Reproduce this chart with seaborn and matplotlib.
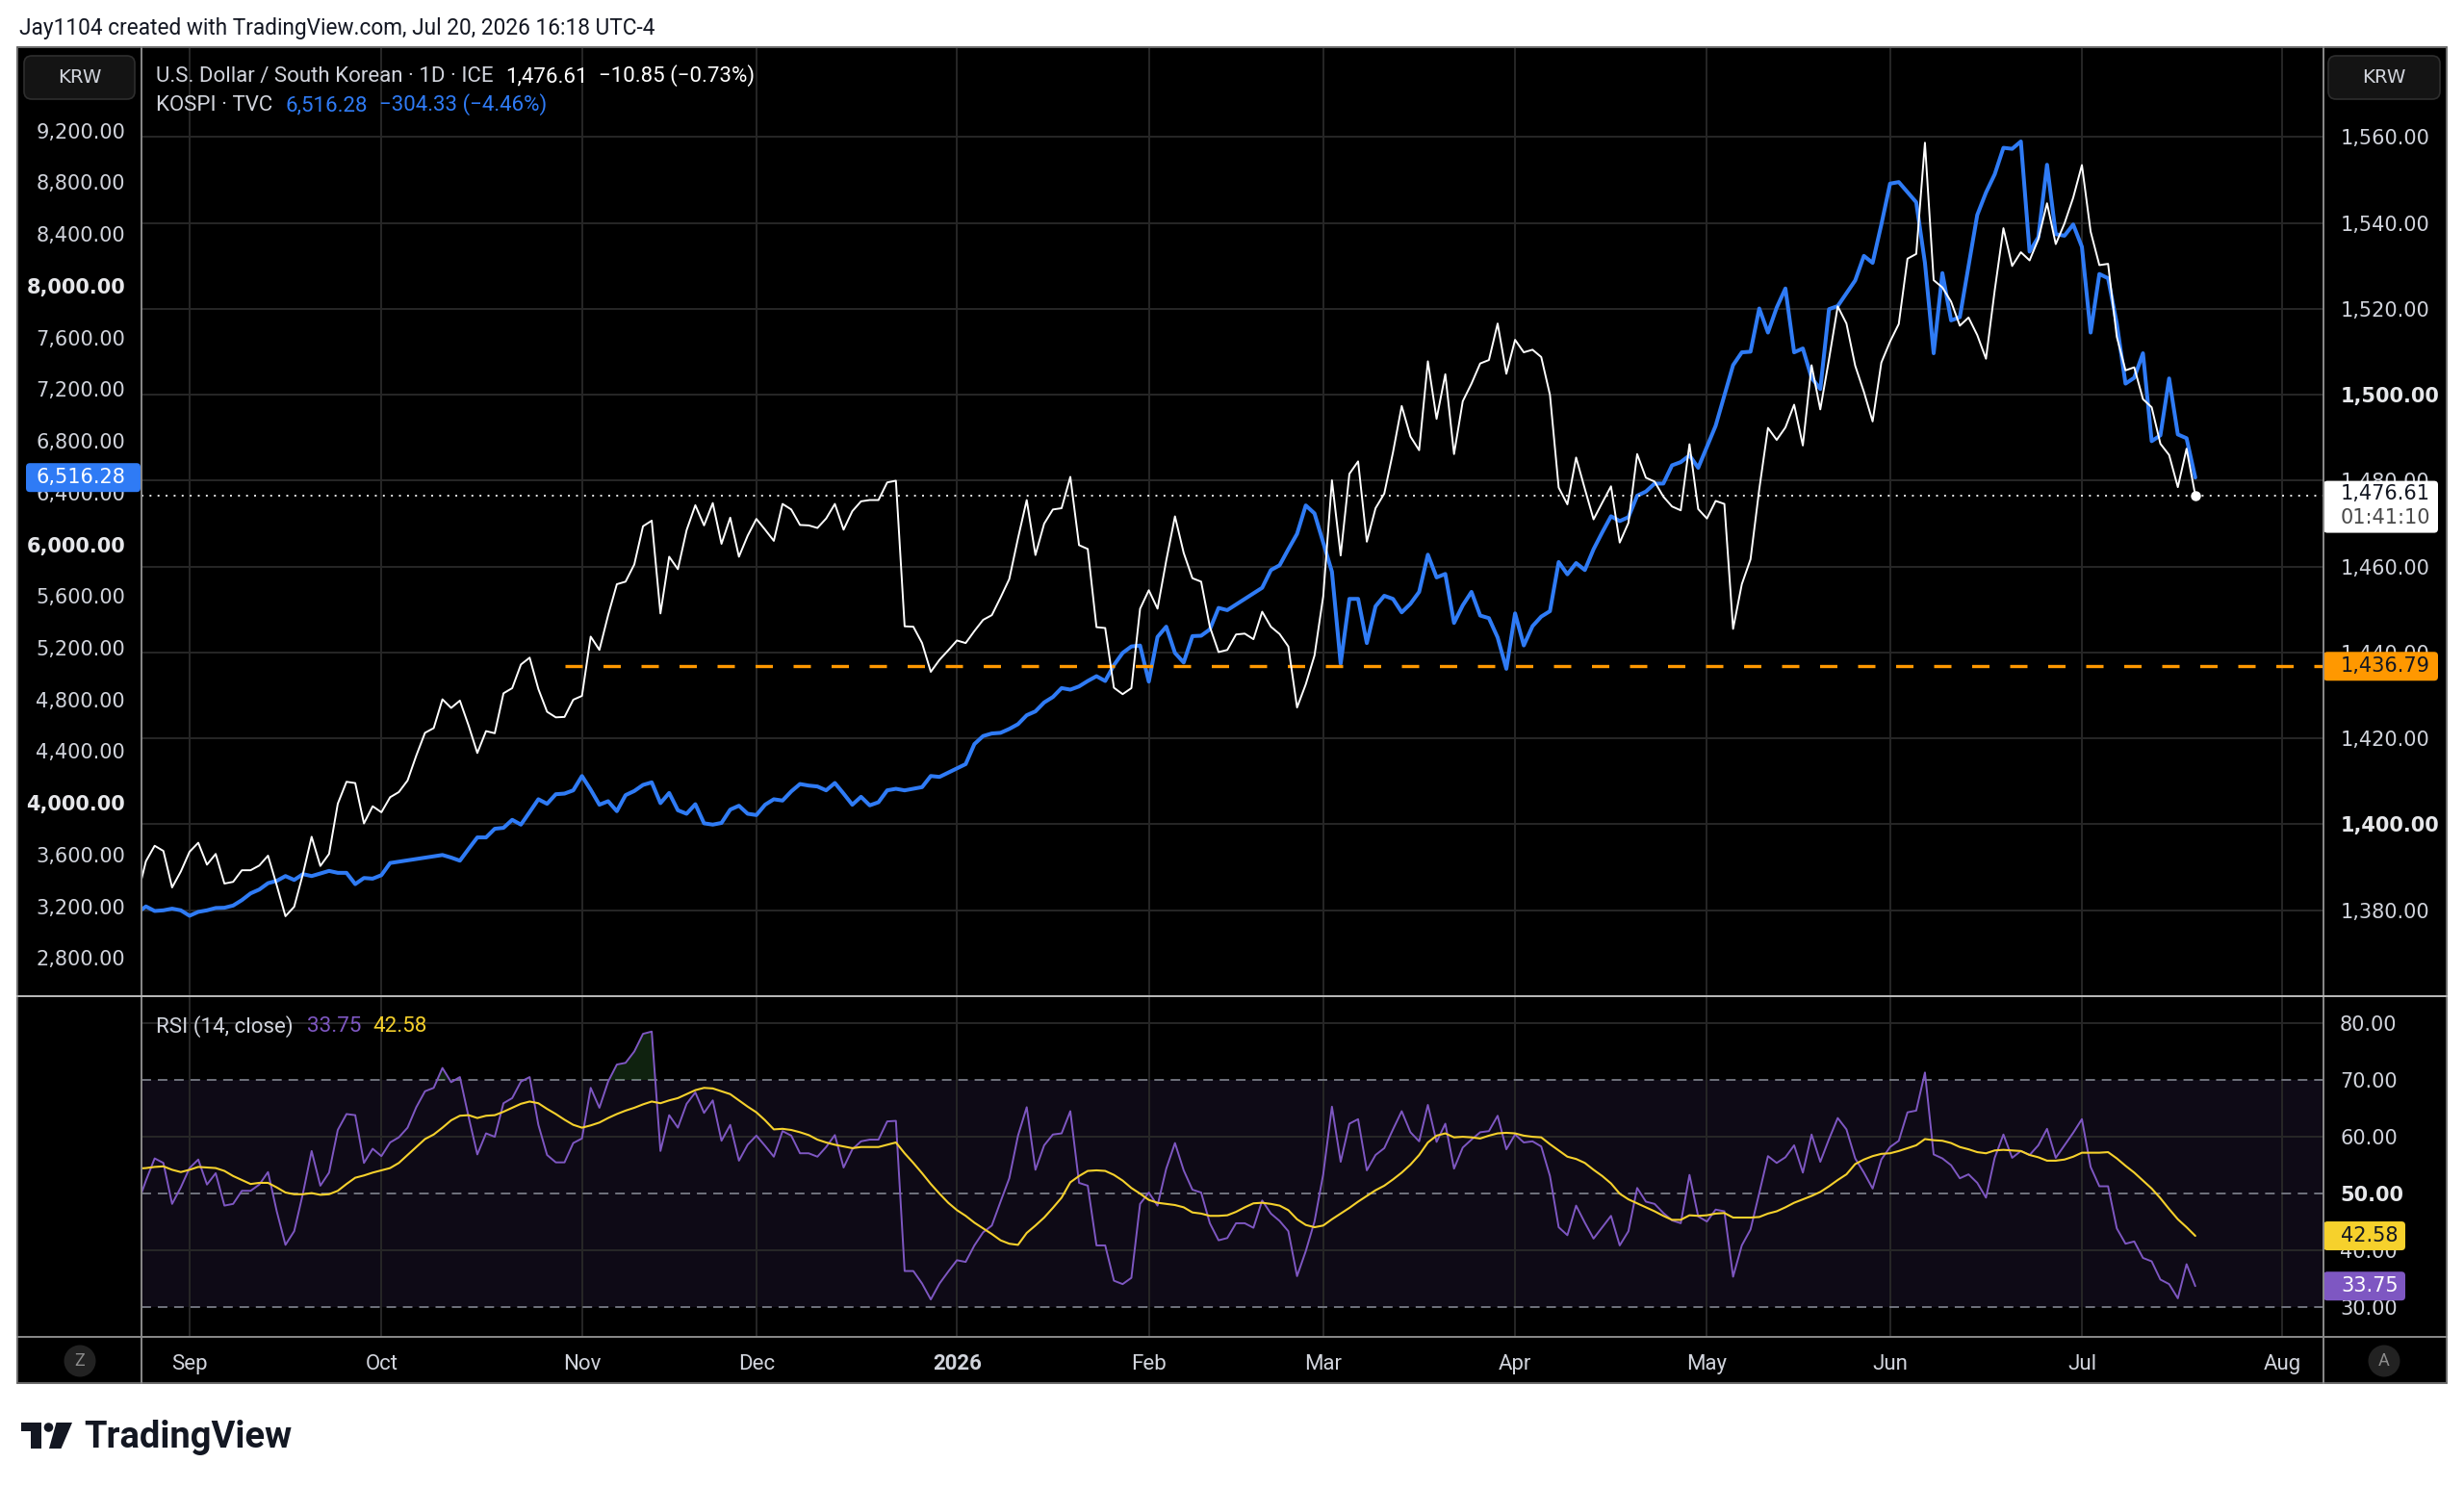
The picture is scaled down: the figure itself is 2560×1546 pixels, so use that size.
import numpy as np
import pandas as pd
import matplotlib
matplotlib.use("Agg")
import matplotlib.pyplot as plt
import seaborn as sns
from matplotlib.patches import FancyBboxPatch, Rectangle, Circle, Polygon
from matplotlib.lines import Line2D
from matplotlib.transforms import blended_transform_factory, IdentityTransform

nan = np.nan

# ------------------------------------------------------------------ data
start_date = "2025-08-22"
end_date = "2026-07-20"
axis_end = "2026-08-31"

usdkrw = [
    1383.2, 1391.4, 1395.0, 1393.8, 1385.3, 1389.0, 1393.6, 1395.7, 1390.6, 1393.1,
    1386.2, 1386.6, 1389.3, 1389.3, 1390.4, 1392.7, 1385.8, 1378.6, 1380.8, 1388.4,
    1397.1, 1390.3, 1393.1, 1404.8, 1409.9, 1409.6, 1400.2, 1404.2, 1402.8, 1406.3,
    1407.5, 1410.2, 1416.0, 1421.3, 1422.4, 1429.1, 1427.1, 1428.8, 1423.0, 1416.6,
    1421.7, 1421.2, 1430.5, 1431.7, 1437.2, 1438.8, 1431.5, 1426.2, 1424.9, 1425.0,
    1429.0, 1429.9, 1443.7, 1440.6, 1448.7, 1455.9, 1456.5, 1460.5, 1469.4, 1470.7,
    1449.1, 1462.3, 1459.4, 1468.5, 1474.3, 1469.6, 1474.8, 1465.3, 1471.4, 1462.3,
    1467.2, 1471.1, 1468.6, 1466.0, 1474.6, 1473.3, 1469.7, 1469.6, 1469.0, 1471.2,
    1474.6, 1468.6, 1472.9, 1475.2, 1475.5, 1475.5, 1479.6, 1480.0, 1446.1, 1446.0,
    1442.2, 1435.5, 1438.3, 1440.5, 1442.8, 1442.2, 1445.0, 1447.6, 1448.7, 1452.8,
    1457.1, 1466.6, 1475.5, 1462.7, 1470.0, 1473.3, 1473.6, 1480.9, 1465.0, 1464.1,
    1445.9, 1445.7, 1431.8, 1430.3, 1431.7, 1450.2, 1454.5, 1450.2, 1461.4, 1471.7,
    1463.2, 1457.3, 1456.5, 1446.0, 1440.1, 1440.6, 1444.2, 1444.4, 1443.1, 1449.5,
    1446.0, 1444.3, 1441.4, 1427.2, 1432.6, 1439.3, 1453.1, 1480.1, 1462.6, 1481.6,
    1484.5, 1465.8, 1473.6, 1477.0, 1486.6, 1497.4, 1490.3, 1487.1, 1507.8, 1494.4,
    1504.8, 1486.2, 1498.5, 1502.6, 1507.3, 1508.1, 1516.6, 1504.9, 1512.8, 1509.9,
    1510.5, 1508.8, 1500.0, 1478.4, 1474.5, 1485.4, 1478.1, 1471.0, 1474.9, 1478.7,
    1465.6, 1470.2, 1486.2, 1480.7, 1479.8, 1476.3, 1474.0, 1473.1, 1488.5, 1473.4,
    1471.2, 1475.3, 1474.6, 1445.5, 1455.9, 1461.7, 1478.0, 1492.3, 1489.5, 1492.4,
    1497.7, 1488.2, 1506.9, 1496.6, 1508.3, 1520.6, 1516.6, 1506.8, 1500.7, 1493.8,
    1507.5, 1512.4, 1516.5, 1531.7, 1532.8, 1558.7, 1526.7, 1525.0, 1521.7, 1516.1,
    1518.0, 1513.9, 1508.4, 1524.3, 1538.8, 1530.0, 1533.2, 1531.3, 1536.2, 1544.6,
    1535.1, 1539.9, 1545.9, 1553.5, 1538.0, 1530.2, 1530.5, 1513.5, 1505.7, 1506.4,
    1499.0, 1497.1, 1488.6, 1486.0, 1478.5, 1487.46, 1476.61,
]

kospi = [
    3150, 3199, 3164, 3169, 3182, 3169, 3127, 3157, 3169, 3187,
    3189, 3206, 3248, 3300, 3330, 3379, 3397, 3434, 3404, 3449,
    3434, 3454, 3474, 3459, 3459, 3372, 3419, 3414, 3441, 3535,
    nan, nan, nan, nan, nan, 3597, 3577, 3553, 3644, 3733,
    3733, 3800, 3807, 3869, 3832, 3929, 4028, 3993, 4067, 4072,
    4097, 4208, 4102, 3986, 4013, 3936, 4060, 4092, 4139, 4159,
    3998, 4077, 3943, 3916, 3990, 3842, 3832, 3845, 3948, 3978,
    3916, 3906, 3986, 4028, 4018, 4089, 4146, 4134, 4127, 4097,
    4154, 4072, 3986, 4047, 3981, 4005, 4097, 4109, 4097, nan,
    4122, 4208, 4201, nan, nan, 4300, 4455, 4517, 4537, 4542,
    4572, 4609, 4678, 4708, 4777, 4819, 4888, 4876, 4901, 4943,
    4980, 4943, 5066, 5160, 5210, 5217, 4938, 5284, 5363, 5160,
    5086, 5290, 5293, 5342, 5508, 5491, nan, nan, nan, 5664,
    5801, 5838, 5962, 6081, 6301, 6239, nan, 5788, 5077, 5578,
    5578, 5236, 5521, 5602, 5578, 5474, 5540, 5632, 5920, 5744,
    5771, 5392, 5528, 5632, 5449, 5429, 5280, 5037, 5466, 5218,
    5367, 5441, 5483, 5863, 5768, 5855, 5801, 5962, 6093, 6217,
    6180, 6210, 6376, 6408, 6470, 6470, 6611, 6636, 6688, 6592,
    nan, 6917, nan, 7386, 7485, 7490, 7824, 7638, 7831, 7979,
    7485, 7515, 7288, 7201, 7819, 7843, nan, 8041, 8231, 8177,
    8473, 8790, 8802, nan, 8646, 8177, 7478, 8098, 7732, 7757,
    8152, 8548, 8721, 8862, 9067, 9059, 9116, 8264, 8375, 8936,
    8399, 8387, 8474, 8301, 7638, 8091, 8058, 7708, 7243, 7288,
    7478, 6798, 6843, 7283, 6850, 6820.61, 6516.28,
]

rsi = [
    48.0, 52.3, 56.2, 55.4, 48.2, 51.1, 54.5, 56.0, 51.6, 53.6,
    47.9, 48.2, 50.5, 50.5, 51.6, 53.8, 46.9, 41.0, 43.4, 50.0,
    57.5, 51.4, 53.7, 61.2, 64.0, 63.8, 55.4, 57.9, 56.6, 59.0,
    59.9, 61.6, 65.2, 68.0, 68.6, 72.1, 69.6, 70.5, 63.5, 56.9,
    60.6, 60.0, 65.9, 66.8, 69.7, 70.5, 62.1, 56.8, 55.5, 55.5,
    58.9, 59.7, 68.6, 65.1, 69.7, 72.7, 73.0, 75.0, 78.1, 78.5,
    57.5, 63.8, 61.6, 65.8, 67.8, 64.2, 66.4, 59.3, 62.1, 55.8,
    58.6, 60.2, 58.4, 56.5, 61.0, 60.2, 57.1, 57.1, 56.5, 58.2,
    60.3, 54.6, 57.8, 59.2, 59.5, 59.5, 62.7, 62.8, 36.4, 36.4,
    34.2, 31.4, 34.2, 36.3, 38.3, 38.0, 40.9, 43.2, 44.4, 48.6,
    52.7, 60.2, 65.2, 54.2, 58.5, 60.4, 60.6, 64.5, 51.9, 51.4,
    40.9, 40.9, 34.7, 34.1, 35.2, 48.2, 50.2, 47.9, 54.4, 58.9,
    54.1, 50.7, 50.2, 44.8, 41.8, 42.2, 44.8, 44.8, 44.0, 48.8,
    46.5, 45.2, 43.4, 35.5, 39.9, 45.1, 53.4, 65.3, 55.6, 62.3,
    63.1, 54.1, 56.8, 58.0, 61.3, 64.5, 60.8, 59.2, 65.6, 59.1,
    62.3, 54.4, 58.1, 59.5, 60.8, 61.0, 63.7, 57.8, 60.4, 59.0,
    59.2, 58.3, 53.1, 44.1, 42.7, 47.9, 44.9, 42.1, 44.1, 46.1,
    40.9, 43.4, 51.0, 48.6, 48.2, 46.6, 45.3, 44.8, 53.3, 46.0,
    45.1, 47.2, 46.9, 35.4, 40.9, 43.7, 50.1, 56.6, 55.4, 56.4,
    58.5, 53.7, 60.4, 55.6, 59.6, 63.3, 61.3, 56.2, 53.7, 50.9,
    56.0, 58.2, 59.3, 64.3, 64.6, 71.3, 56.9, 56.2, 55.0, 52.7,
    53.4, 51.9, 49.3, 56.3, 60.4, 56.3, 57.5, 56.8, 58.5, 61.4,
    56.3, 58.5, 60.7, 63.1, 54.7, 51.3, 51.3, 43.9, 41.2, 41.6,
    38.7, 38.1, 34.9, 34.1, 31.6, 37.6, 33.75,
]

rsi_ma = [
    54.4, 54.5, 54.7, 54.8, 54.2, 53.8, 54.2, 54.7, 54.6, 54.5,
    54.0, 53.1, 52.4, 51.7, 51.9, 51.9, 51.1, 50.2, 49.9, 49.9,
    50.1, 49.8, 49.9, 50.5, 51.7, 52.8, 53.2, 53.7, 54.1, 54.5,
    55.4, 56.8, 58.2, 59.6, 60.4, 61.6, 62.9, 63.7, 63.8, 63.3,
    63.7, 63.8, 64.4, 65.1, 65.8, 66.2, 65.9, 64.9, 64.0, 63.0,
    62.1, 61.6, 62.0, 62.5, 63.3, 64.0, 64.6, 65.1, 65.7, 66.2,
    65.9, 66.4, 66.8, 67.5, 68.2, 68.6, 68.5, 68.0, 67.5, 66.4,
    65.3, 64.3, 62.9, 61.3, 61.4, 61.2, 60.8, 60.3, 59.5, 59.0,
    58.6, 58.3, 58.0, 58.2, 58.2, 58.2, 58.6, 59.0, 57.1, 55.4,
    53.6, 51.7, 50.0, 48.4, 47.1, 46.1, 44.9, 43.9, 42.9, 41.8,
    41.2, 41.0, 43.1, 44.4, 45.8, 47.5, 49.3, 52.0, 53.1, 54.0,
    54.1, 54.0, 53.3, 52.3, 51.0, 50.0, 48.9, 48.4, 48.2, 48.0,
    47.6, 46.7, 46.5, 46.1, 46.1, 46.2, 46.8, 47.6, 48.3, 48.4,
    48.2, 47.9, 47.1, 45.5, 44.5, 44.1, 44.4, 45.5, 46.5, 47.5,
    48.6, 49.6, 50.6, 51.4, 52.5, 53.7, 55.1, 56.8, 59.0, 60.2,
    60.6, 59.9, 60.0, 59.9, 59.7, 60.2, 60.6, 60.7, 60.6, 60.2,
    60.0, 59.9, 58.7, 57.6, 56.5, 56.1, 55.4, 54.2, 53.1, 51.8,
    50.0, 49.0, 48.3, 47.6, 46.9, 46.1, 45.4, 45.4, 46.2, 46.1,
    46.2, 46.5, 46.6, 45.8, 45.8, 45.8, 45.9, 46.5, 46.9, 47.6,
    48.4, 49.0, 49.6, 50.3, 51.3, 52.4, 53.4, 55.2, 56.0, 56.6,
    57.0, 57.1, 57.5, 58.0, 58.5, 59.6, 59.4, 59.3, 58.9, 58.2,
    57.8, 57.3, 57.1, 57.6, 57.7, 57.6, 57.5, 56.8, 56.4, 55.8,
    55.8, 56.0, 56.5, 57.2, 57.2, 57.2, 57.3, 56.2, 54.9, 53.7,
    52.3, 50.9, 49.2, 47.3, 45.5, 44.1, 42.58,
]

kospi_ticks = [2800, 3200, 3600, 4000, 4400, 4800, 5200, 5600, 6000, 6400,
               6800, 7200, 7600, 8000, 8400, 8800, 9200]
krw_ticks = [1380, 1400, 1420, 1440, 1460, 1480, 1500, 1520, 1540, 1560]
rsi_ticks = [30, 40, 50, 60, 70, 80]
rsi_levels = [30, 50, 70]
rsi_grid = [40, 60, 80]
level_value = 1436.79
level_start = "2025-10-30"
month_starts = ["2025-09-01", "2025-10-01", "2025-11-03", "2025-12-01", "2026-01-01",
                "2026-02-02", "2026-03-02", "2026-04-01", "2026-05-01", "2026-06-01",
                "2026-07-01", "2026-08-03"]
month_labels = ["Sep", "Oct", "Nov", "Dec", "2026", "Feb", "Mar", "Apr", "May", "Jun",
                "Jul", "Aug"]
krw_change, krw_pct = "\u221210.85", "(\u22120.73%)"
kospi_change, kospi_pct = "\u2212304.33", "(\u22124.46%)"
countdown = "01:41:10"

dates = pd.bdate_range(start_date, end_date)
axis_dates = pd.bdate_range(start_date, axis_end)
assert len(dates) == len(usdkrw) == len(kospi) == len(rsi) == len(rsi_ma), (
    len(dates), len(usdkrw), len(kospi), len(rsi), len(rsi_ma))
pos = np.arange(len(dates))
df = pd.DataFrame({"date": dates, "pos": pos, "usdkrw": usdkrw, "kospi": kospi,
                   "rsi": rsi, "rsi_ma": rsi_ma})
month_pos = [axis_dates.get_loc(pd.Timestamp(d)) for d in month_starts]
level_pos = axis_dates.get_loc(pd.Timestamp(level_start))

# ------------------------------------------------------------------ style
W, H, DPI = 2560, 1546, 100
sns.set_theme(style="dark")
plt.rcParams["font.family"] = ["Roboto", "DejaVu Sans"]
NUM = ["DejaVu Sans"]

BLUE = "#2f7bf5"
PURPLE = "#7e57c2"
YELLOW = "#f6d12c"
ORANGE = "#ff9800"
GRID = "#272727"
TICK = "#d1d4dc"
SEP = "#8a8a8a"
DARK = "#131722"

fig = plt.figure(figsize=(W / DPI, H / DPI), dpi=DPI, facecolor="white")
renderer = fig.canvas.get_renderer()


def prect(l, t, r, b):
    return [l / W, 1 - b / H, (r - l) / W, (b - t) / H]


def ptext(x, y, s, **kw):
    return fig.text(x / W, 1 - y / H, s, **kw)


def fit(t, target):
    w = t.get_window_extent(renderer).width
    t.set_fontsize(t.get_fontsize() * target / w)
    return t


def right_edge(t):
    return t.get_window_extent(renderer).x1


def pbox(l, t, r, b, fc, ec="none", lw=0.0, rad=4, z=6):
    p = FancyBboxPatch((l, H - b), r - l, b - t,
                       boxstyle=f"round,pad=0,rounding_size={rad}",
                       transform=IdentityTransform(), fc=fc, ec=ec, lw=lw, zorder=z)
    fig.add_artist(p)


def pline(x0, y0, x1, y1, color=SEP, lw=1.4, z=7):
    fig.add_artist(Line2D([x0 / W, x1 / W], [1 - y0 / H, 1 - y1 / H],
                          transform=fig.transFigure, color=color, lw=lw, zorder=z))


# chart frame background
fig.add_artist(Rectangle((18 / W, 1 - 1437 / H), (2542 - 18) / W, (1437 - 49) / H,
                         transform=fig.transFigure, fc="black", ec="none", zorder=-5))

PANE_L, PANE_R = 147, 2414
ax_k = fig.add_axes(prect(PANE_L, 49, PANE_R, 1035))
ax_u = ax_k.twinx()
ax_r = fig.add_axes(prect(PANE_L, 1035, PANE_R, 1389))
for a in (ax_k, ax_r):
    a.set_facecolor("black")
ax_u.patch.set_visible(False)

XL = (0.49, 250.7)

# ------------------------------------------------------------------ main pane
trans_u = blended_transform_factory(ax_k.transAxes, ax_u.transData)
for v in krw_ticks:
    ax_k.plot([0, 1], [v, v], transform=trans_u, color=GRID, lw=1.4, zorder=0.5)
for p in month_pos:
    ax_k.axvline(p, color=GRID, lw=1.4, zorder=0.5)
    ax_r.axvline(p, color=GRID, lw=1.4, zorder=0.5)

sns.lineplot(data=df.dropna(subset=["kospi"]), x="pos", y="kospi", ax=ax_k,
             color=BLUE, linewidth=2.9, errorbar=None, zorder=3,
             solid_joinstyle="round", solid_capstyle="round")
sns.lineplot(data=df, x="pos", y="usdkrw", ax=ax_u, color="white", linewidth=1.4,
             errorbar=None, zorder=4, solid_joinstyle="round")

ax_u.axhline(df["usdkrw"].iloc[-1], color="#e8e8e8", lw=1.4, ls=(0, (1, 3.3)), zorder=2)
ax_u.plot([level_pos, XL[1]], [level_value, level_value], color=ORANGE, lw=2.4,
          ls=(0, (5.4, 6.45)), zorder=2.5)
ax_u.plot(df["pos"].iloc[-1], df["usdkrw"].iloc[-1], marker="o", ms=6.5,
          color="white", zorder=6)

# ------------------------------------------------------------------ RSI pane
ax_r.axhspan(30, 70, color="#0e0a16", lw=0, zorder=0.2)
for v in rsi_grid:
    ax_r.axhline(v, color=GRID, lw=1.4, zorder=0.4)
for v in rsi_levels:
    ax_r.axhline(v, color="#787b86", lw=1.3, ls=(0, (5.5, 3.9)), zorder=0.6)
rv = df["rsi"].to_numpy()
ax_r.fill_between(df["pos"], rv, 70, where=rv > 70, interpolate=True,
                  color="#4caf50", alpha=0.2, lw=0, zorder=0.8)
sns.lineplot(data=df, x="pos", y="rsi", ax=ax_r, color=PURPLE, linewidth=1.4,
             errorbar=None, zorder=3, solid_joinstyle="round")
sns.lineplot(data=df, x="pos", y="rsi_ma", ax=ax_r, color=YELLOW, linewidth=1.5,
             errorbar=None, zorder=4, solid_joinstyle="round")

# ------------------------------------------------------------------ axes styling
ax_k.set_xlim(*XL)
ax_r.set_xlim(*XL)
ax_k.set_ylim(2505, 9845.5)
ax_u.set_ylim(1359.98, 1580.95)
ax_r.set_ylim(24.82, 84.72)

for a in (ax_k, ax_u, ax_r):
    a.grid(False)
    a.set_xlabel("")
    a.set_ylabel("")
    for s in a.spines.values():
        s.set_visible(False)

ax_k.set_xticks([])
ax_k.set_yticks(kospi_ticks)
ax_k.set_yticklabels([f"{v:,.2f}" for v in kospi_ticks], fontfamily=NUM,
                     fontsize=15, color=TICK)
for lab, v in zip(ax_k.get_yticklabels(), kospi_ticks):
    if v % 2000 == 0:
        lab.set_fontweight("bold")
        lab.set_color("#e6e7ea")
ax_k.tick_params(axis="y", length=0, pad=12.2)

ax_u.set_yticks(krw_ticks)
ax_u.set_yticklabels([f"{v:,.2f}" for v in krw_ticks], fontfamily=NUM,
                     fontsize=15, color=TICK)
for lab, v in zip(ax_u.get_yticklabels(), krw_ticks):
    if v % 100 == 0:
        lab.set_fontweight("bold")
        lab.set_color("#e6e7ea")
ax_u.tick_params(axis="y", length=0, pad=12.7)

ax_r.yaxis.tick_right()
ax_r.set_yticks(rsi_ticks)
ax_r.set_yticklabels([f"{v:.2f}" for v in rsi_ticks], fontfamily=NUM,
                     fontsize=15, color=TICK)
for lab, v in zip(ax_r.get_yticklabels(), rsi_ticks):
    if v == 50:
        lab.set_fontweight("bold")
        lab.set_color("#e6e7ea")
ax_r.tick_params(axis="y", length=0, pad=12.3)

ax_r.set_xticks(month_pos)
ax_r.set_xticklabels(month_labels, fontsize=16, color=TICK)
for lab, s in zip(ax_r.get_xticklabels(), month_labels):
    lab.set_va("baseline")
    if s.isdigit():
        lab.set_fontweight("bold")
ax_r.tick_params(axis="x", length=0, pad=24.3)

# ------------------------------------------------------------------ frame lines
pline(18, 49, 2542, 49, color="#6b6b6b")
pline(18, 1437, 2542, 1437, color="#6b6b6b")
pline(18, 49, 18, 1437, color="#6b6b6b")
pline(2542, 49, 2542, 1437, color="#6b6b6b")
pline(146.5, 49, 146.5, 1437)
pline(2414, 49, 2414, 1437)
pline(18, 1035, 2542, 1035, color="#bdbdbd")
pline(18, 1389, 2542, 1389)

# ------------------------------------------------------------------ value labels


def ypix(ax, v):
    return H - ax.transData.transform((0, v))[1]


y_krw = ypix(ax_u, df["usdkrw"].iloc[-1])
pbox(2414, y_krw - 15, 2533, y_krw + 39, "white", rad=4)
ptext(2432, y_krw - 2, f"{df['usdkrw'].iloc[-1]:,.2f}", fontfamily=NUM, fontsize=15,
      color=DARK, va="center", ha="left", zorder=8)
ptext(2432, y_krw + 23, countdown, fontfamily=NUM, fontsize=15, color="#4a4a4a",
      va="center", ha="left", zorder=8)

y_lv = ypix(ax_u, level_value)
pbox(2414, y_lv - 15, 2533, y_lv + 15, ORANGE, rad=4)
ptext(2432, y_lv, f"{level_value:,.2f}", fontfamily=NUM, fontsize=15, color=DARK,
      va="center", ha="left", zorder=8)

y_ma = ypix(ax_r, df["rsi_ma"].iloc[-1])
pbox(2414, y_ma - 15, 2499, y_ma + 15, YELLOW, rad=4)
ptext(2432, y_ma, f"{df['rsi_ma'].iloc[-1]:.2f}", fontfamily=NUM, fontsize=15,
      color=DARK, va="center", ha="left", zorder=8)

y_rsi = ypix(ax_r, df["rsi"].iloc[-1])
pbox(2414, y_rsi - 15, 2499, y_rsi + 15, PURPLE, rad=4)
ptext(2432, y_rsi, f"{df['rsi'].iloc[-1]:.2f}", fontfamily=NUM, fontsize=15,
      color="white", va="center", ha="left", zorder=8)

y_k = ypix(ax_k, df["kospi"].iloc[-1])
pbox(27, y_k - 15, 146, y_k + 15, BLUE, rad=4)
ptext(130, y_k, f"{df['kospi'].iloc[-1]:,.2f}", fontfamily=NUM, fontsize=15,
      color="white", va="center", ha="right", zorder=8)

# KRW buttons
pbox(25, 58, 140, 103, "#141414", ec="#2e2e2e", lw=1.2, rad=8)
ptext(82.5, 80.5, "KRW", fontfamily=NUM, fontsize=14.2, color=TICK, ha="center",
      va="center", zorder=8)
pbox(2419, 58, 2535, 103, "#141414", ec="#2e2e2e", lw=1.2, rad=8)
ptext(2477, 80.5, "KRW", fontfamily=NUM, fontsize=14.2, color=TICK, ha="center",
      va="center", zorder=8)

# Z / A buttons
for cx, ch in ((83, "Z"), (2477, "A")):
    fig.add_artist(Circle((cx, H - 1414), 16.5, transform=IdentityTransform(),
                          fc="#222222", ec="none", zorder=7))
    ptext(cx, 1414, ch, fontsize=13, color="#8c8c8c", ha="center", va="center",
          zorder=8)

# ------------------------------------------------------------------ legends
t = ptext(162, 85, "U.S. Dollar / South Korean \u00b7 1D \u00b7 ICE", fontsize=15,
          color=TICK, va="baseline", zorder=8)
fit(t, 352)
hs = t.get_fontsize()
t = ptext(right_edge(t) + 13, 85, f"{df['usdkrw'].iloc[-1]:,.2f}", fontsize=hs,
          color="white", va="baseline", zorder=8)
ptext(right_edge(t) + 11, 85, f"{krw_change} {krw_pct}", fontsize=hs, color="white",
      va="baseline", zorder=8)
t = ptext(162, 115, "KOSPI \u00b7 TVC", fontsize=hs, color=TICK, va="baseline", zorder=8)
t = ptext(right_edge(t) + 13, 115, f"{df['kospi'].iloc[-1]:,.2f}", fontsize=hs,
          color=BLUE, va="baseline", zorder=8)
ptext(right_edge(t) + 12, 115, f"{kospi_change} {kospi_pct}", fontsize=hs, color=BLUE,
      va="baseline", zorder=8)

t = ptext(162, 1072.5, "RSI (14, close)", fontsize=15, color=TICK, va="baseline",
          zorder=8)
fit(t, 143)
rs = t.get_fontsize()
t = ptext(right_edge(t) + 14, 1072.5, f"{df['rsi'].iloc[-1]:.2f}", fontsize=rs,
          color=PURPLE, va="baseline", zorder=8)
ptext(right_edge(t) + 12, 1072.5, f"{df['rsi_ma'].iloc[-1]:.2f}", fontsize=rs,
      color=YELLOW, va="baseline", zorder=8)

# ------------------------------------------------------------------ page texts
t = ptext(20, 36, "Jay1104 created with TradingView.com, Jul 20, 2026 16:18 UTC-4",
          fontsize=14, color=DARK, va="baseline", zorder=8)
fit(t, 663)

t = ptext(87, 1504, "TradingView", fontsize=26, fontweight="bold", color=DARK,
          va="baseline", zorder=8)
fit(t, 217)


def poly(pts, **kw):
    fig.add_artist(Polygon([(x, H - y) for x, y in pts], closed=True,
                           transform=IdentityTransform(), **kw))


poly([(21.7, 1478), (43.3, 1478), (43.3, 1505), (32, 1505), (32, 1487), (21.7, 1487)],
     fc=DARK, ec="none", zorder=8)
fig.add_artist(Circle((50.5, H - 1483), 4.8, transform=IdentityTransform(),
                      fc=DARK, ec="none", zorder=8))
poly([(58.5, 1478), (75, 1478), (63.5, 1505), (51, 1505)], fc=DARK, ec="none", zorder=8)

fig.savefig("out.png", dpi=DPI, facecolor="white")
